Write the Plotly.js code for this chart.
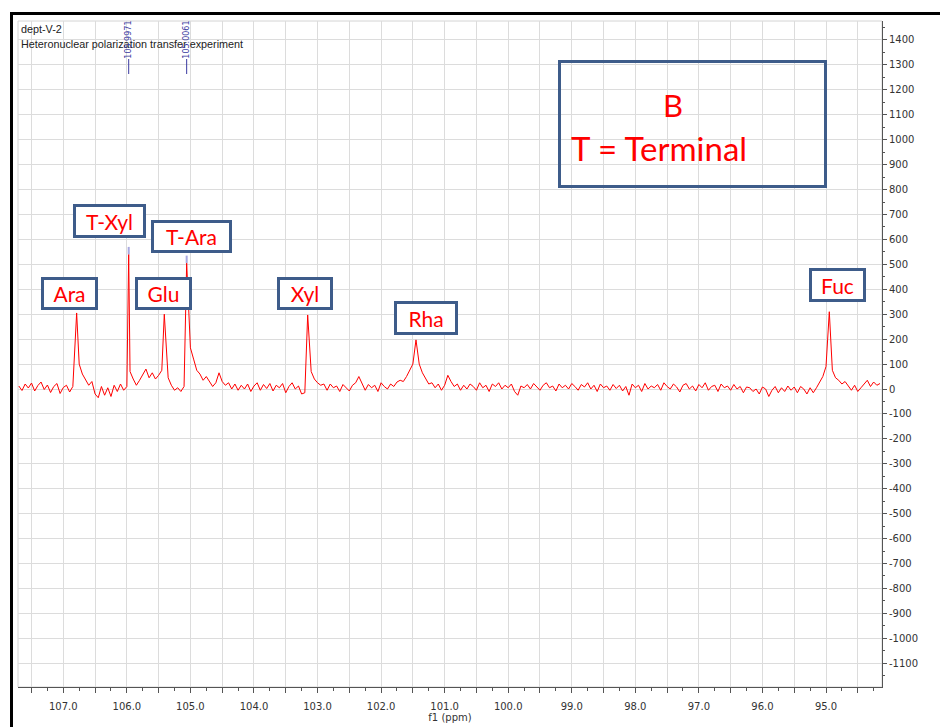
<!DOCTYPE html>
<html><head><meta charset="utf-8">
<script src="https://cdn.plot.ly/plotly-3.0.1.min.js"></script>
<style>html,body{margin:0;padding:0;background:#fff;} #chart{width:940px;height:727px;}</style>
</head><body><div id="chart"></div>
<script>
// ---- data ----
const gridStartPpm = 107.70;
const gridStepPpm = 0.05;
const baselineIntensity = [
  12, -6, 20, 4, 24, -8, 14, 28, -2, 16,
  -14, 10, 22, -18, 6, 15, -12, 10, 20, 100,
  60, 35, 15, 30, -20, -35, 10, -25, 5, -30,
  15, -10, 20, -5, 10, 70, 40, 15, 35, 55,
  80, 45, 65, 40, 55, 75, 200, 45, 15, -5,
  5, -10, 10, 300, 165, 120, 75, 60, 35, 50,
  30, 10, 25, 65, 30, 15, 25, 0, 20, -5,
  15, 0, 20, -10, 12, 25, -5, 18, 2, 22,
  -8, 15, 5, 22, -15, 10, 25, 0, 12, -20,
  -15, 290, 70, 40, 25, 15, 20, -5, 20, 5,
  12, -10, 18, 5, -8, 15, 25, 50, 20, -5,
  18, 5, 15, -10, 25, 10, 0, 20, 10, 28,
  35, 30, 50, 75, 100, 190, 100, 65, 40, 20,
  25, 5, 20, -5, 15, 55, 30, 10, 20, -5,
  15, 0, 20, 10, -5, 25, 5, 15, -10, 20,
  10, 25, 0, 15, 5, 20, -10, -25, 12, 5,
  18, 0, 22, 10, -5, 15, 25, 5, 12, -8,
  20, 5, 15, 0, 22, 10, -5, 18, 8, 25,
  0, 15, -10, 20, 5, 12, -5, 18, 2, 15,
  -8, 10, -25, 20, 5, 15, -10, 22, 0, 12,
  5, 18, -5, 25, 10, 0, 20, 8, -12, 15,
  22, 0, 12, -8, 18, 5, 25, -5, 10, 15,
  -10, 20, 5, 12, -5, 18, 0, 10, -15, 8,
  5, -10, 0, -20, 8, 0, -30, -5, 10, -15,
  5, -10, 12, -5, 8, -15, 10, 0, -20, 5,
  -15, 5, 30, 50, 90, 300, 75, 45, 35, 20,
  30, 10, -5, 15, -10, 5, 20, 35, 10, 28, 15, 22
];
const peakNames = ["Ara", "T-Xyl", "Glu", "T-Ara", "Xyl", "Rha", "Fuc"];
const peakPpm = [106.79, 105.971, 105.411, 105.059, 103.155, 101.451, 94.948];
const peakIntensity = [305, 540, 300, 505, 297, 197, 310];
const pickedPeakIndex = [1, 3];
const pickedLabels = ["105.9971", "105.0061"];
const xTickLabels = ["107.0","106.0","105.0","104.0","103.0","102.0","101.0","100.0","99.0","98.0","97.0","96.0","95.0"];
const yTickLabels = ["1400","1300","1200","1100","1000","900","800","700","600","500","400","300","200","100","0",
  "-100","-200","-300","-400","-500","-600","-700","-800","-900","-1000","-1100"];

// ---- build spectrum ----
const pts = [];
baselineIntensity.forEach((v, i) => {
  const p = +(gridStartPpm - i * gridStepPpm).toFixed(3);
  if (!peakPpm.some(q => Math.abs(q - p) < 0.015)) pts.push([p, v]);
});
peakPpm.forEach((p, i) => pts.push([p, peakIntensity[i]]));
pts.sort((a, b) => b[0] - a[0]);

// ---- layout geometry (pixels) ----
const W = 940, H = 727, PL = 18, PR = 882, PT = 21, PB = 687;
const px = x => (x - PL) / (PR - PL);
const py = y => (PB - y) / (PB - PT);

const xTickVals = [], xTickText = [];
xTickLabels.forEach(t => { const v = parseFloat(t); xTickVals.push(v + 0.5, v); xTickText.push("", t); });
xTickVals.push(94.5); xTickText.push("");
const yTickVals = yTickLabels.map(t => parseFloat(t));

const tickFont = {family: "DejaVu Sans, sans-serif", size: 10, color: "#333"};
const boxColor = "#3e5c8a";
const labelFont = {family: "Lato, 'Open Sans', sans-serif", size: 21, color: "#ff0000"};

// label boxes: [text, centerX, centerY, innerW, innerH] in pixels
const boxes = [
  [peakNames[0], 69.5, 293.5, 51, 27],
  [peakNames[1], 109.5, 221, 67, 28],
  [peakNames[2], 163.5, 293.5, 51, 27],
  [peakNames[3], 191.5, 236.5, 75, 27],
  [peakNames[4], 305, 293.5, 50, 27],
  [peakNames[5], 426, 318, 58, 28],
  [peakNames[6], 837.5, 285, 51, 28]
];

const annotations = boxes.map(b => ({
  text: b[0], xref: "paper", yref: "paper", x: px(b[1]), y: py(b[2]),
  xanchor: "center", yanchor: "middle", showarrow: false,
  width: b[3], height: b[4], bordercolor: boxColor, borderwidth: 3, borderpad: 0,
  bgcolor: "#ffffff", font: labelFont
}));
annotations.push(
  {text: "B", xref: "paper", yref: "paper", x: px(673), y: py(105), xanchor: "center", yanchor: "middle",
   showarrow: false, font: {family: "Lato, sans-serif", size: 31, color: "#ff0000"}},
  {text: "T = Terminal", xref: "paper", yref: "paper", x: px(569), y: py(148), xanchor: "left", yanchor: "middle",
   showarrow: false, font: {family: "Lato, sans-serif", size: 33, color: "#ff0000"}},
  {text: "dept-V-2", xref: "paper", yref: "paper", x: px(19), y: py(29), xanchor: "left", yanchor: "middle",
   showarrow: false, font: {family: "Liberation Sans, sans-serif", size: 10.8, color: "#222"}},
  {text: "Heteronuclear polarization transfer experiment", xref: "paper", yref: "paper", x: px(19), y: py(44),
   xanchor: "left", yanchor: "middle", showarrow: false, font: {family: "Liberation Sans, sans-serif", size: 10.8, color: "#222"}}
);
pickedPeakIndex.forEach((k, j) => {
  annotations.push({text: pickedLabels[j], xref: "x", yref: "paper", x: peakPpm[k], y: py(40),
    xanchor: "center", yanchor: "middle", textangle: -90, showarrow: false,
    font: {family: "DejaVu Sans, sans-serif", size: 8, color: "#3a3aa0"}});
});

const shapes = [
  {type: "rect", xref: "paper", yref: "paper", x0: 0, x1: 1, y0: 0, y1: 1, line: {color: "#d4d4d4", width: 1}, layer: "below"},
  {type: "rect", xref: "paper", yref: "paper", x0: px(558 + 1.5), x1: px(827 - 1.5), y0: py(60 + 1.5), y1: py(188 - 1.5),
   line: {color: boxColor, width: 3}, fillcolor: "rgba(0,0,0,0)"},
  {type: "line", xref: "paper", yref: "paper", x0: px(11.5), x1: px(11.5), y0: py(12), y1: py(727), line: {color: "#000", width: 3}},
  {type: "line", xref: "paper", yref: "paper", x0: px(10), x1: px(940), y0: py(13.5), y1: py(13.5), line: {color: "#000", width: 3}}
];
pickedPeakIndex.forEach(k => {
  shapes.push({type: "line", xref: "x", yref: "paper", x0: peakPpm[k], x1: peakPpm[k], y0: py(74), y1: py(59),
    line: {color: "#3a3aa0", width: 1}});
  shapes.push({type: "line", xref: "x", yref: "y", x0: peakPpm[k], x1: peakPpm[k], y0: peakIntensity[k], y1: peakIntensity[k] + 30,
    line: {color: "#a8a8e0", width: 2}});
});

const trace = {
  x: pts.map(p => p[0]), y: pts.map(p => p[1]), type: "scatter", mode: "lines",
  line: {color: "#ff0000", width: 1}, hoverinfo: "skip"
};

const layout = {
  width: W, height: H,
  margin: {l: PL, r: W - PR, t: PT, b: H - PB, pad: 0},
  paper_bgcolor: "#ffffff", plot_bgcolor: "#ffffff",
  showlegend: false,
  xaxis: {
    range: [107 + (63.3 - PL) / 63.56, 95 - (PR - 826) / 63.56],
    tickmode: "array", tickvals: xTickVals, ticktext: xTickText,
    ticks: "outside", ticklen: 5, tickcolor: "#555", tickwidth: 1,
    ticklabelstandoff: 5,
    showgrid: true, gridcolor: "#dcdcdc", gridwidth: 1, zeroline: false,
    showline: true, linecolor: "#555", linewidth: 1,
    tickfont: tickFont,
    minor: {tickmode: "linear", tick0: 95, dtick: 0.25, ticks: "outside", ticklen: 3, tickcolor: "#555", showgrid: false},
    title: {text: "f1 (ppm)", font: tickFont, standoff: 1}
  },
  yaxis: {
    side: "right",
    range: [(389 - PB) / 0.2493, (389 - PT) / 0.2493],
    tickmode: "array", tickvals: yTickVals, ticktext: yTickLabels,
    ticks: "outside", ticklen: 4, tickcolor: "#555",
    showgrid: true, gridcolor: "#dcdcdc", gridwidth: 1, zeroline: false,
    showline: true, linecolor: "#555", linewidth: 1,
    tickfont: tickFont,
    minor: {tickmode: "linear", tick0: 0, dtick: 50, ticks: "outside", ticklen: 2, tickcolor: "#555", showgrid: false}
  },
  annotations: annotations,
  shapes: shapes
};

Plotly.newPlot("chart", [trace], layout, {displayModeBar: false, staticPlot: true});
</script>
</body></html>
